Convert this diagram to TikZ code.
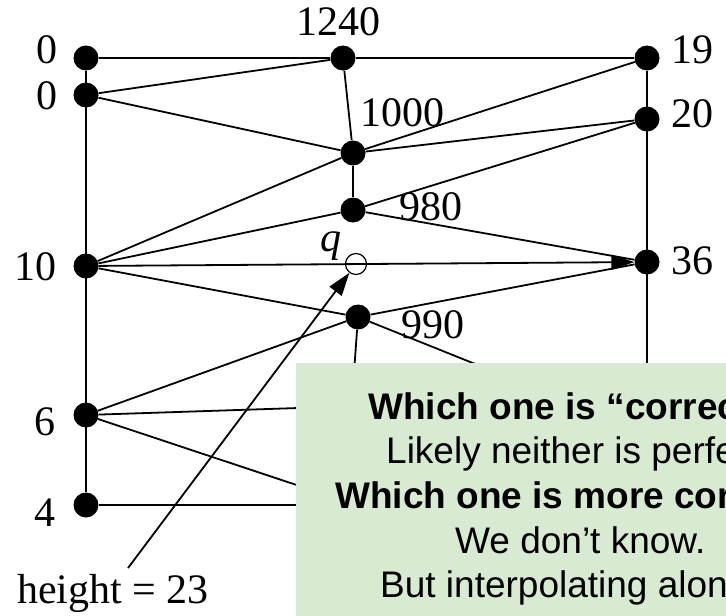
\documentclass[tikz,border=0pt]{standalone}
\usepackage{fontspec}
\setmainfont{Liberation Serif}
\newfontfamily\boxfont{Liberation Sans}
\usetikzlibrary{arrows.meta}
\definecolor{boxgreen}{HTML}{D9EAD3}
\begin{document}
\begin{tikzpicture}[x=1pt,y=-1pt,
  dot/.style={circle,fill=black,inner sep=0pt,minimum size=25pt},
  hole/.style={circle,draw=black,line width=1.2pt,inner sep=0pt,minimum size=21pt},
  lab/.style={font=\fontsize{42}{42}\selectfont,inner sep=0pt},
  edge/.style={line width=1.8pt},
  arr/.style={line width=1.8pt,-{Triangle[length=23pt,width=15pt]}},
  boxtxt/.style={font=\boxfont\fontsize{37}{37}\selectfont,anchor=base west,inner sep=0pt},
]
\useasboundingbox (0,0) rectangle (726,616);
\clip (0,0) rectangle (726,616);

% nodes
\node[dot] (La) at (86,58) {};
\node[dot] (Lb) at (86,95) {};
\node[dot] (L10) at (86,266) {};
\node[dot] (L6) at (86,415) {};
\node[dot] (L4) at (86,505) {};
\node[dot] (M1240) at (343,58) {};
\node[dot] (M1000) at (353,153) {};
\node[dot] (M980) at (353,210) {};
\node[hole] (Q) at (356,264) {};
\node[dot] (M990) at (358,317) {};
\node[dot] (R19) at (647,58) {};
\node[dot] (R20) at (647,119) {};
\node[dot] (R36) at (647,262) {};

% hidden ends behind the box
\coordinate (h990d) at (352,400);
\coordinate (h990r) at (600,414);
\coordinate (h36d) at (647,420);
\coordinate (h6a) at (420,404);
\coordinate (h6b) at (420,526);
\coordinate (h4) at (420,505);
\coordinate (hstart) at (128,568);

% labels
\node[lab] (tLa) at (47,50) {0};
\node[lab] (tLb) at (47,96) {0};
\node[lab] (tL10) at (36,267) {10};
\node[lab] (tL6) at (45,422) {6};
\node[lab] (tL4) at (45,513) {4};
\node[lab] (t1240) at (338,22) {1240};
\node[lab] (t1000) at (402,113) {1000};
\node[lab] (t980) at (431,207) {980};
\node[lab,anchor=base] (tq) at (331,251) {\itshape q};
\node[lab] (t990) at (433,325) {990};
\node[lab] (t19) at (692,50) {19};
\node[lab] (t20) at (692,114) {20};
\node[lab] (t36) at (692,261) {36};
\node[lab,anchor=base] (theight) at (113,603) {height = 23};

% edges
\draw[edge] (La) -- (L4);
\draw[edge] (R19) -- (h36d);
\draw[edge] (La) -- (M1240) -- (R19);
\draw[edge] (Lb) -- (M1240);
\draw[edge] (Lb) -- (M1000);
\draw[edge] (M1240) -- (M1000);
\draw[edge] (M1000) -- (R19);
\draw[edge] (M1000) -- (R20);
\draw[edge] (M1000) -- (M980);
\draw[edge] (M980) -- (R20);
\draw[edge] (L10) -- (M1000);
\draw[edge] (L10) -- (M980);
\draw[edge] (M980) -- (R36);
\draw[arr] (L10) -- (R36);
\draw[edge] (L10) -- (M990);
\draw[edge] (M990) -- (R36);
\draw[edge] (L6) -- (M990);
\draw[edge] (M990) -- (h990d);
\draw[edge] (M990) -- (h990r);
\draw[edge] (L6) -- (h6a);
\draw[edge] (L6) -- (h6b);
\draw[edge] (L4) -- (h4);
\draw[arr] (hstart) -- (Q);

% green box
\node[fill=boxgreen,anchor=north west,inner sep=0pt,minimum width=460pt,minimum height=270pt] (box) at (296,363) {};
\node[boxtxt] (b1) at (368,419) {\bfseries Which one is “correc};
\node[boxtxt] (b2) at (386,463) {Likely neither is perfe};
\node[boxtxt] (b3) at (335,508) {\bfseries Which one is more cor};
\node[boxtxt] (b4) at (455,553) {We don’t know.};
\node[boxtxt] (b5) at (380,597) {But interpolating alon};
\end{tikzpicture}
\end{document}
